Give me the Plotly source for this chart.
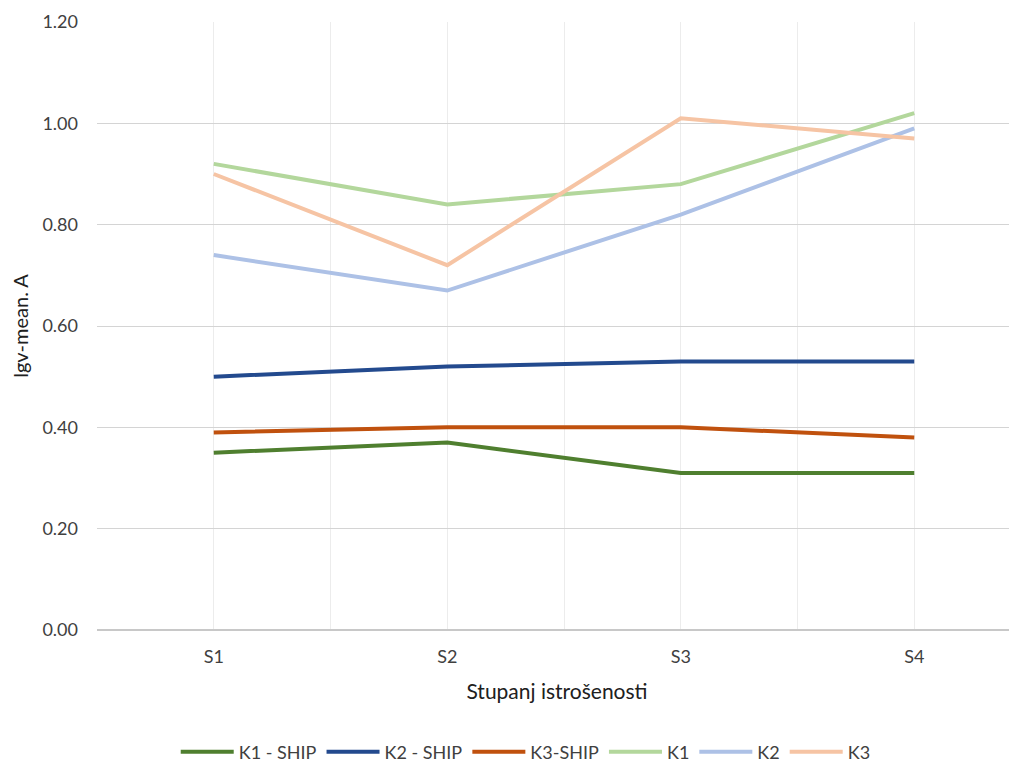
import plotly.graph_objects as go

# Data
categories = ["S1", "S2", "S3", "S4"]
k1_ship = [0.35, 0.37, 0.31, 0.31]
k2_ship = [0.50, 0.52, 0.53, 0.53]
k3_ship = [0.39, 0.40, 0.40, 0.38]
k1 = [0.92, 0.84, 0.88, 1.02]
k2 = [0.74, 0.67, 0.82, 0.99]
k3 = [0.90, 0.72, 1.01, 0.97]

series = [
    ("K1 - SHIP", k1_ship, "#4f7f2f"),
    ("K2 - SHIP", k2_ship, "#234a8e"),
    ("K3-SHIP", k3_ship, "#c0510e"),
    ("K1", k1, "#b3d79c"),
    ("K2", k2, "#adc1e6"),
    ("K3", k3, "#f6c4a4"),
]

xpos = list(range(len(categories)))

fig = go.Figure()
for name, vals, color in series:
    fig.add_trace(go.Scatter(
        x=xpos, y=vals, name=name, mode="lines",
        line=dict(color=color, width=4),
    ))

font_family = "Lato, 'Noto Sans', sans-serif"

# page body has an 8px default margin, so the figure is 8px smaller
fig.update_layout(
    width=1009, height=754,
    margin=dict(l=89, r=0, t=14, b=132, autoexpand=False),
    paper_bgcolor="white", plot_bgcolor="white",
    font=dict(family=font_family, color="#404040", size=18),
    showlegend=True,
    legend=dict(
        orientation="h", x=0.466, xanchor="center",
        y=-0.2007, yanchor="middle",
        font=dict(size=18, color="#404040"),
        itemwidth=53, tracegroupgap=0,
    ),
    xaxis=dict(
        range=[-0.5, 3.44], automargin=False,
        tickmode="array", tickvals=xpos, ticktext=categories,
        showgrid=True, gridcolor="#ececec", gridwidth=1,
        minor=dict(tickmode="array", tickvals=[-0.5, 0.5, 1.5, 2.5, 3.5],
                   showgrid=True, gridcolor="#ececec", gridwidth=1, ticklen=0),
        showline=False, zeroline=False, ticks="",
        ticklabelstandoff=14,
        title=dict(text="Stupanj istrošenosti", font=dict(size=21, color="#202020"), standoff=18),
    ),
    yaxis=dict(
        range=[0, 1.2], dtick=0.2, tickformat=".2f", automargin=False,
        showgrid=True, gridcolor="#d4d4d4", gridwidth=1,
        zeroline=True, zerolinecolor="#c8c8c8", zerolinewidth=1.5,
        showline=False, ticks="",
        ticklabelstandoff=18,
        title=dict(text="lgv-mean. A", font=dict(size=20, color="#202020"), standoff=16),
    ),
)

fig.write_html("out.html")
